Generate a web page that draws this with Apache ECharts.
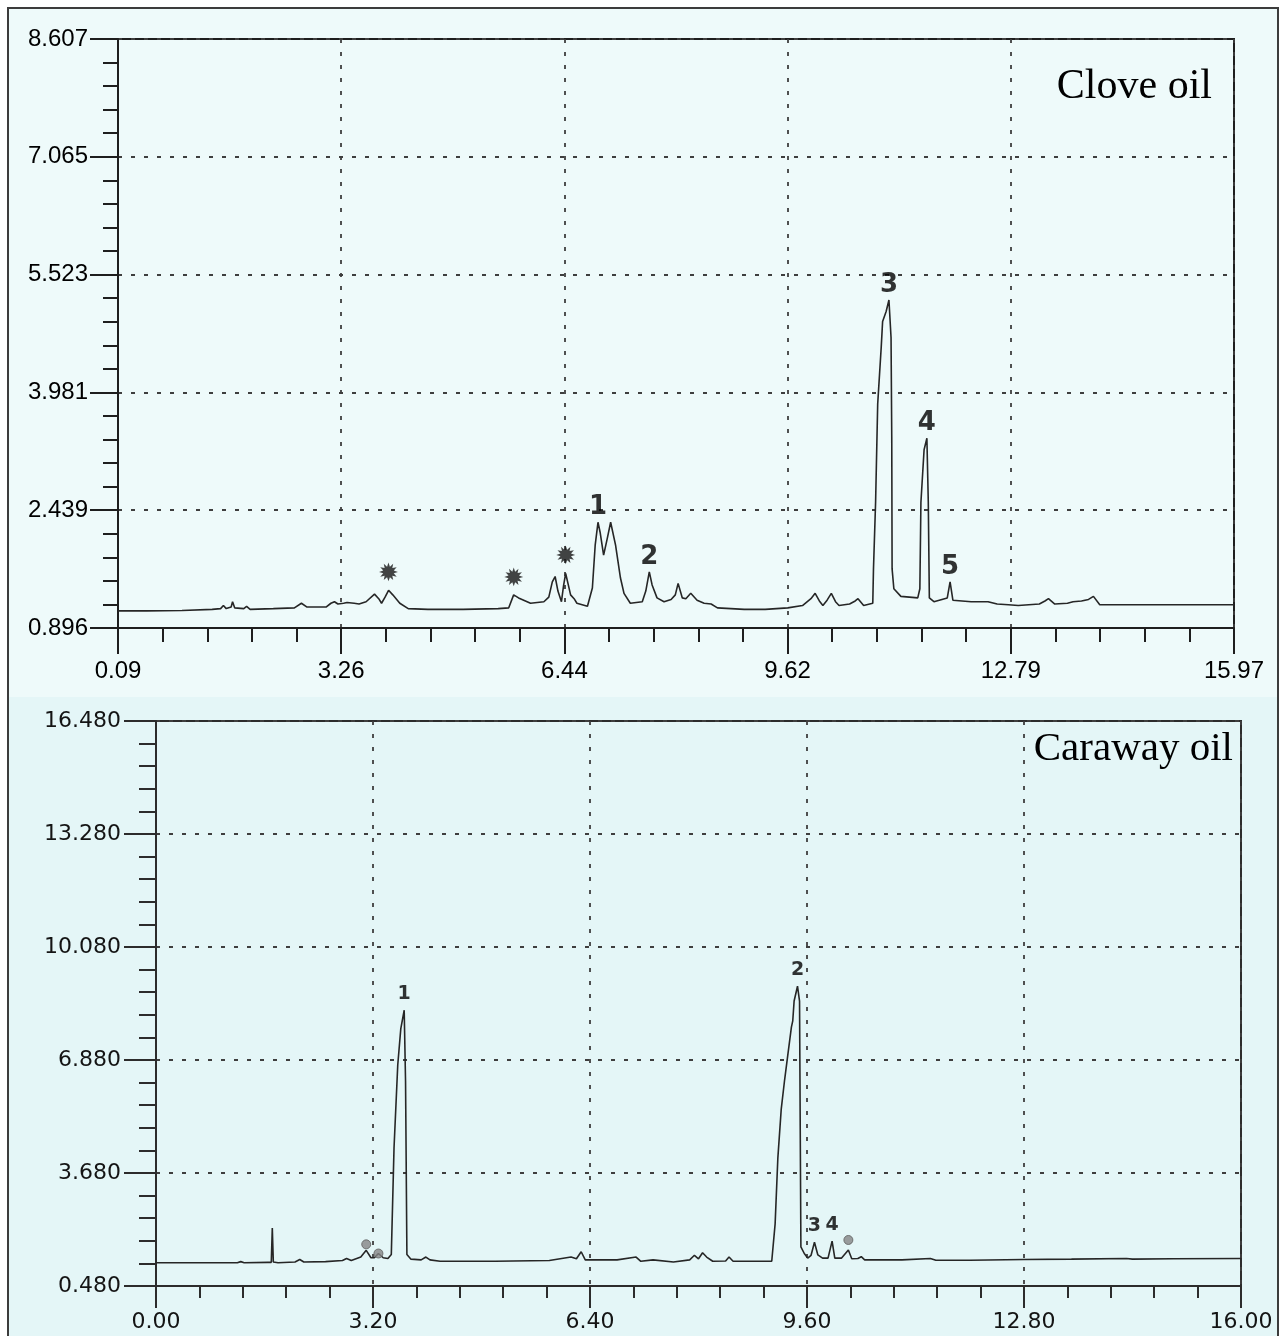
<!DOCTYPE html>
<html>
<head>
<meta charset="utf-8">
<script src="https://cdn.jsdelivr.net/npm/echarts@6/dist/echarts.min.js"></script>
<style>
  html, body { margin: 0; padding: 0; background: #ffffff; }
  #chart { width: 1280px; height: 1336px; }
</style>
</head>
<body>
<div id="chart"></div>
<script>
// ---- Clove oil chromatogram: [retention time (min), detector signal] ----
const cloveTrace = [
  [0.09,1.12],[0.5,1.12],[1.0,1.125],[1.43,1.14],[1.55,1.15],[1.59,1.19],[1.63,1.15],[1.70,1.17],
  [1.72,1.24],[1.75,1.16],[1.88,1.15],[1.92,1.18],[1.97,1.14],[2.3,1.15],[2.6,1.16],[2.70,1.22],
  [2.78,1.17],[3.05,1.17],[3.12,1.22],[3.17,1.24],[3.22,1.21],[3.30,1.22],[3.35,1.23],[3.45,1.22],
  [3.52,1.21],[3.62,1.24],[3.74,1.34],[3.80,1.28],[3.84,1.22],[3.89,1.30],[3.94,1.39],[4.00,1.33],
  [4.10,1.22],[4.22,1.15],[4.5,1.14],[5.0,1.14],[5.5,1.15],[5.65,1.16],[5.72,1.33],[5.79,1.29],
  [5.96,1.22],[6.15,1.24],[6.22,1.30],[6.27,1.50],[6.31,1.57],[6.35,1.38],[6.40,1.24],[6.43,1.45],
  [6.46,1.61],[6.50,1.45],[6.53,1.33],[6.58,1.28],[6.62,1.22],[6.77,1.18],[6.84,1.42],[6.88,1.98],
  [6.92,2.28],[6.95,2.15],[7.00,1.85],[7.05,2.06],[7.10,2.28],[7.17,1.98],[7.24,1.55],[7.29,1.35],
  [7.38,1.22],[7.55,1.24],[7.60,1.38],[7.65,1.63],[7.69,1.46],[7.76,1.29],[7.86,1.24],[7.96,1.27],
  [8.02,1.33],[8.06,1.48],[8.12,1.29],[8.17,1.28],[8.24,1.35],[8.33,1.26],[8.43,1.22],[8.53,1.21],
  [8.62,1.16],[9.0,1.14],[9.3,1.14],[9.62,1.16],[9.83,1.19],[9.95,1.28],[10.01,1.35],[10.07,1.25],
  [10.12,1.19],[10.18,1.26],[10.24,1.35],[10.30,1.24],[10.35,1.19],[10.5,1.21],[10.58,1.25],[10.62,1.28],
  [10.70,1.19],[10.83,1.22],[10.84,1.67],[10.87,2.54],[10.90,3.83],[10.95,4.57],[10.97,4.91],[11.02,5.04],
  [11.06,5.19],[11.09,4.70],[11.10,3.40],[11.105,1.67],[11.13,1.41],[11.23,1.31],[11.47,1.29],[11.50,1.41],
  [11.515,2.54],[11.56,3.23],[11.60,3.38],[11.62,2.54],[11.635,1.29],[11.70,1.24],[11.89,1.29],[11.93,1.50],
  [11.97,1.26],[12.23,1.24],[12.47,1.24],[12.6,1.21],[12.76,1.20],[12.9,1.19],[13.2,1.21],[13.28,1.25],
  [13.33,1.28],[13.42,1.21],[13.6,1.22],[13.68,1.24],[13.8,1.25],[13.9,1.27],[13.97,1.31],[14.06,1.20],
  [14.5,1.20],[15.0,1.20],[15.97,1.20]
];
// numbered components and starred minor peaks (retention times)
const clovePeakNames = ['1', '2', '3', '4', '5'];
const clovePeakTimes = [6.92, 7.65, 11.06, 11.60, 11.93];
const cloveStarTimes = [3.94, 5.72, 6.46];

// axis ranges and printed tick labels
const cloveXRange = [0.09, 15.97];
const cloveYRange = [0.896, 8.607];
const cloveXTicks = ['0.09', '3.26', '6.44', '9.62', '12.79', '15.97'];
const cloveYTicks = ['0.896', '2.439', '3.981', '5.523', '7.065', '8.607'];

// ---- Caraway oil chromatogram ----
const carawayTrace = [
  [0,1.14],[1.2,1.14],[1.25,1.17],[1.3,1.14],[1.65,1.15],[1.70,1.15],[1.715,2.12],[1.73,1.16],
  [1.8,1.14],[2.05,1.16],[2.12,1.23],[2.18,1.16],[2.5,1.17],[2.75,1.2],[2.81,1.26],[2.88,1.2],
  [3.02,1.30],[3.10,1.49],[3.17,1.28],[3.22,1.28],[3.28,1.40],[3.35,1.28],[3.42,1.26],[3.47,1.37],
  [3.51,4.39],[3.565,6.74],[3.61,7.77],[3.66,8.29],[3.68,6.27],[3.70,1.37],[3.76,1.24],[3.91,1.22],
  [3.98,1.30],[4.04,1.22],[4.19,1.18],[5.0,1.18],[5.8,1.20],[6.12,1.30],[6.20,1.25],[6.27,1.45],
  [6.33,1.22],[6.8,1.22],[7.08,1.30],[7.15,1.18],[7.33,1.22],[7.63,1.16],[7.87,1.22],[7.94,1.35],
  [8.0,1.25],[8.06,1.42],[8.12,1.3],[8.21,1.18],[8.40,1.19],[8.45,1.30],[8.51,1.18],[9.08,1.18],
  [9.13,2.24],[9.17,4.10],[9.22,5.49],[9.27,6.32],[9.32,7.07],[9.37,7.81],[9.39,7.99],[9.41,8.55],
  [9.46,8.97],[9.49,8.55],[9.50,5.0],[9.51,1.59],[9.56,1.40],[9.61,1.27],[9.66,1.35],[9.71,1.72],
  [9.76,1.36],[9.83,1.27],[9.91,1.27],[9.97,1.75],[10.01,1.27],[10.11,1.27],[10.21,1.50],[10.26,1.25],
  [10.35,1.26],[10.40,1.31],[10.45,1.22],[11.0,1.22],[11.42,1.26],[11.5,1.21],[12.0,1.21],[12.8,1.23],
  [13.5,1.24],[14.31,1.26],[14.4,1.24],[15.0,1.25],[16.0,1.26]
];
const carawayPeakNames = ['1', '2', '3', '4'];
const carawayPeakTimes = [3.66, 9.46, 9.71, 9.97];
const carawayDotTimes = [3.10, 3.28, 10.21];

const carawayXRange = [0, 16];
const carawayYRange = [0.48, 16.48];
const carawayXTicks = ['0.00', '3.20', '6.40', '9.60', '12.80', '16.00'];
const carawayYTicks = ['0.480', '3.680', '6.880', '10.080', '13.280', '16.480'];

// ---------------------------------------------------------------
// Each panel's axes start at 0 so that the five equal intervals
// fall exactly on the printed ticks; values are shifted by the
// panel's lower bounds and labels come from the tick arrays.
const SEGMENTS = 5;

function signalAt(trace, t) {
  let best = trace[0];
  for (const p of trace) if (Math.abs(p[0] - t) < Math.abs(best[0] - t)) best = p;
  return best[1];
}

function shifted(xr, yr, pts) {
  return pts.map(p => [p[0] - xr[0], p[1] - yr[0]]);
}

function buildAxes(gridIndex, xr, yr, xTicks, yTicks, look) {
  const xStep = (xr[1] - xr[0]) / SEGMENTS;
  const yStep = (yr[1] - yr[0]) / SEGMENTS;
  const split = { show: true, lineStyle: { type: [4, 9], color: '#3e3e3e', width: 1.8 } };
  const text = { fontFamily: look.font, fontSize: look.fontSize, color: look.color };
  const xAxis = {
    type: 'value', gridIndex,
    min: 0, max: +(xStep * SEGMENTS).toFixed(6), interval: xStep,
    axisLine: { show: true, onZero: false, lineStyle: { color: look.line, width: 2 } },
    axisTick: { show: true, inside: false, length: look.xTick, lineStyle: { color: look.line, width: 2 } },
    minorTick: { show: true, splitNumber: 5, length: look.xMinor, lineStyle: { color: look.line, width: 2 } },
    axisLabel: Object.assign({
      margin: look.xMargin,
      formatter: v => xTicks[Math.round(v / xStep)] || ''
    }, text),
    splitLine: split
  };
  const yAxis = {
    type: 'value', gridIndex,
    min: 0, max: +(yStep * SEGMENTS).toFixed(6), interval: yStep,
    axisLine: { show: true, onZero: false, lineStyle: { color: look.line, width: 2 } },
    axisTick: { show: true, inside: false, length: look.yTick, lineStyle: { color: look.line, width: 2 } },
    minorTick: { show: true, splitNumber: 5, length: look.yMinor, lineStyle: { color: look.line, width: 2 } },
    axisLabel: Object.assign({
      margin: look.yMargin,
      formatter: v => yTicks[Math.round(v / yStep)] || ''
    }, text),
    splitLine: split
  };
  return { xAxis, yAxis };
}

const topLook = {
  font: 'Liberation Sans', fontSize: 24, color: '#000000', line: '#1e1e1e',
  xTick: 26, xMinor: 14, yTick: 28, yMinor: 15, xMargin: 31, yMargin: 30
};
const bottomLook = {
  font: 'DejaVu Sans', fontSize: 22, color: '#141414', line: '#2c2c2c',
  xTick: 22, xMinor: 12, yTick: 32, yMinor: 17, xMargin: 25, yMargin: 35
};

const topAxes = buildAxes(0, cloveXRange, cloveYRange, cloveXTicks, cloveYTicks, topLook);
const bottomAxes = buildAxes(1, carawayXRange, carawayYRange, carawayXTicks, carawayYTicks, bottomLook);

function traceSeries(idx, xr, yr, trace) {
  return {
    type: 'line', xAxisIndex: idx, yAxisIndex: idx,
    data: shifted(xr, yr, trace),
    showSymbol: false, symbol: 'none', smooth: false,
    lineStyle: { color: '#262626', width: 1.6 },
    z: 4, silent: true
  };
}

function labelSeries(idx, xr, yr, trace, times, names, font) {
  return {
    type: 'scatter', xAxisIndex: idx, yAxisIndex: idx,
    symbolSize: 0, silent: true, z: 6,
    data: times.map((t, i) => ({
      value: [t - xr[0], signalAt(trace, t) - yr[0]],
      label: { formatter: names[i] }
    })),
    label: Object.assign({ show: true, position: 'top', color: '#000' }, font)
  };
}

const cloveStars = {
  type: 'scatter', xAxisIndex: 0, yAxisIndex: 0, symbolSize: 0, silent: true, z: 6,
  data: cloveStarTimes.map(t => [t - cloveXRange[0], signalAt(cloveTrace, t) - cloveYRange[0]]),
  label: {
    show: true, position: 'top', distance: 3, formatter: '\u2739',
    fontFamily: 'DejaVu Sans', fontSize: 25, color: '#151515'
  }
};

// lift of each grey dot above its peak, in pixels
const dotLift = [-6, 0, -10];
const carawayDots = {
  type: 'scatter', xAxisIndex: 1, yAxisIndex: 1, silent: true, z: 5,
  symbol: 'circle', symbolSize: 9,
  data: carawayDotTimes.map((t, i) => ({
    value: [t - carawayXRange[0], signalAt(carawayTrace, t) - carawayYRange[0]],
    symbolOffset: [0, dotLift[i]]
  })),
  itemStyle: { color: '#858585', borderColor: '#5e5e5e', borderWidth: 1 }
};

const option = {
  animation: false,
  backgroundColor: '#ffffff',
  graphic: [
    { type: 'rect', z: -10, silent: true,
      shape: { x: 8, y: 8, width: 1270, height: 1340 },
      style: { fill: '#eefafa', stroke: '#3c3c3c', lineWidth: 2 } },
    { type: 'rect', z: -9, silent: true,
      shape: { x: 9, y: 697, width: 1268, height: 645 },
      style: { fill: '#e4f6f7' } },
    { type: 'text', z: 10, silent: true, x: 1212, y: 87,
      style: { text: 'Clove oil', fill: '#000', font: '42px "Liberation Serif"',
               align: 'right', verticalAlign: 'middle' } },
    { type: 'text', z: 10, silent: true, x: 1233, y: 749,
      style: { text: 'Caraway oil', fill: '#000', font: '41px "Liberation Serif"',
               align: 'right', verticalAlign: 'middle' } }
  ],
  grid: [
    { left: 118, top: 39, width: 1116, height: 589, show: true,
      borderColor: '#1e1e1e', borderWidth: 2, backgroundColor: 'transparent' },
    { left: 156, top: 721, width: 1085, height: 565, show: true,
      borderColor: '#2c2c2c', borderWidth: 2, backgroundColor: 'transparent' }
  ],
  xAxis: [topAxes.xAxis, bottomAxes.xAxis],
  yAxis: [topAxes.yAxis, bottomAxes.yAxis],
  series: [
    traceSeries(0, cloveXRange, cloveYRange, cloveTrace),
    labelSeries(0, cloveXRange, cloveYRange, cloveTrace, clovePeakTimes, clovePeakNames,
      { fontFamily: 'DejaVu Sans', fontWeight: 'bold', fontSize: 26, distance: 2 }),
    cloveStars,
    traceSeries(1, carawayXRange, carawayYRange, carawayTrace),
    labelSeries(1, carawayXRange, carawayYRange, carawayTrace, carawayPeakTimes, carawayPeakNames,
      { fontFamily: 'DejaVu Sans', fontWeight: 'bold', fontSize: 19, distance: 7 }),
    carawayDots
  ]
};

const chart = echarts.init(document.getElementById('chart'), null, { renderer: 'canvas' });
chart.setOption(option);
</script>
</body>
</html>
